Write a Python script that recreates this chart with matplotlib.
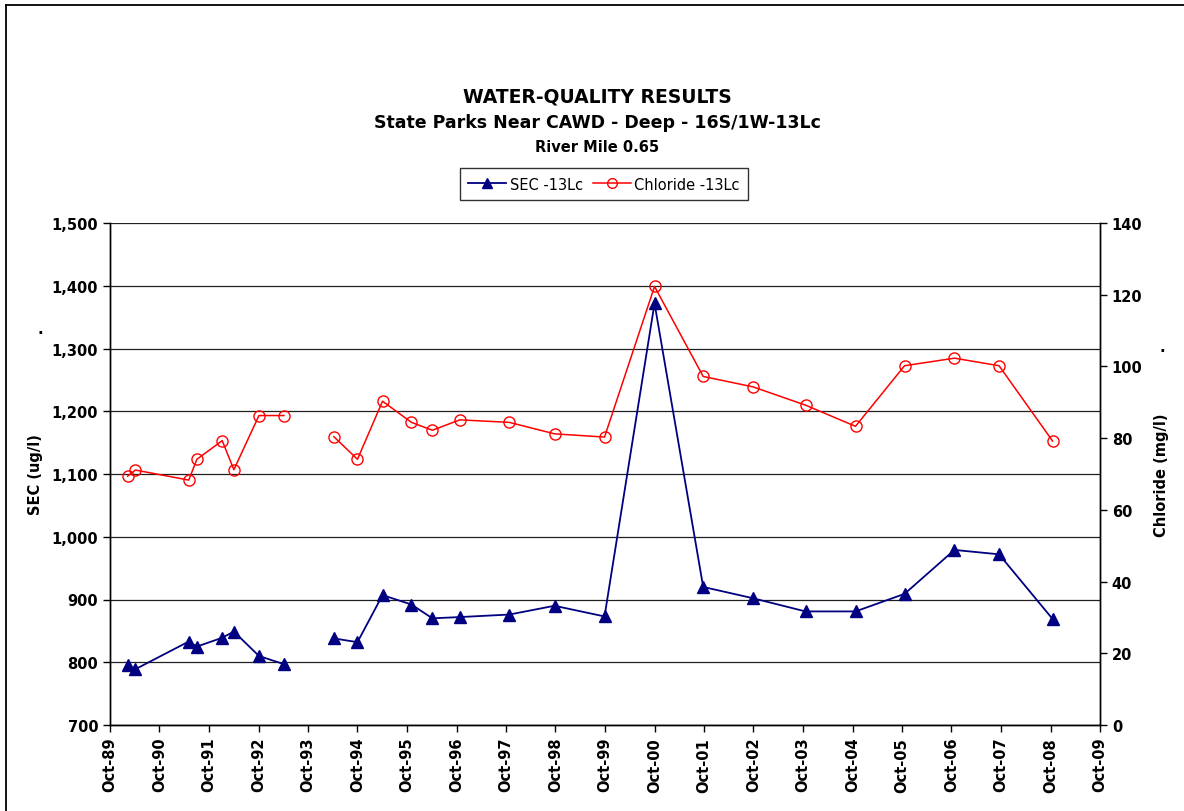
import matplotlib
matplotlib.use("Agg")
import matplotlib.pyplot as plt
import matplotlib.dates as mdates
from matplotlib.lines import Line2D
import numpy as np
import pandas as pd

plt.rcParams['font.family'] = ['DejaVu Sans']

# ---- data ----
sample_dates = ["1990-02-08", "1990-04-07", "1991-05-05", "1991-07-04", "1992-01-07",
                "1992-04-02", "1992-10-04", "1993-04-06", None, "1994-04-10",
                "1994-10-01", "1995-04-04", "1995-11-03", "1996-04-06", "1996-10-25",
                "1997-10-25", "1998-09-24", "1999-09-28", "2000-10-01", "2001-09-25",
                "2002-09-28", "2003-10-20", "2004-10-23", "2005-10-20", "2006-10-23",
                "2007-09-17", "2008-10-16"]
sec_values = [795, 789, 833, 825, 839, 849, 810, 797, None, 838,
              832, 907, 892, 870, 872, 876, 890, 873, 1372, 920,
              902, 881, 881, 909, 979, 972, 869]
chloride_values = [69.4, 71.1, 68.3, 74.1, 79.3, 71.2, 86.3, 86.3, None, 80.4,
                   74.1, 90.3, 84.4, 82.2, 85.1, 84.4, 81.2, 80.3, 122.3, 97.2,
                   94.3, 89.2, 83.3, 100.2, 102.3, 100.2, 79.2]
x_tick_years = list(range(1989, 2010))

# gap in record between 1993 and 1994 -> NaN breaks the lines
gap_date = "1993-10-01"
dates = pd.to_datetime([d if d is not None else gap_date for d in sample_dates])
sec = np.array([np.nan if v is None else v for v in sec_values], dtype=float)
chl = np.array([np.nan if v is None else v for v in chloride_values], dtype=float)

fig = plt.figure(figsize=(11.84, 8.12), dpi=100)
ax = fig.add_axes([110/1184, 1-726/812, 990/1184, 502/812])
ax2 = ax.twinx()

ax.set_ylim(700, 1500)
ax.set_yticks(np.arange(700, 1501, 100))
ax.yaxis.set_major_formatter(matplotlib.ticker.FuncFormatter(lambda v, p: f"{int(v):,}"))
ax2.set_ylim(0, 140)
ax2.set_yticks(np.arange(0, 141, 20))

xt = [pd.Timestamp(f"{y}-10-01") for y in x_tick_years]
ax.set_xlim(xt[0], xt[-1])
ax.set_xticks(xt)
ax.xaxis.set_major_formatter(mdates.DateFormatter("%b-%y"))

ax.grid(axis='y', color='#202020', lw=0.9)
ax.set_axisbelow(True)

for a in (ax, ax2):
    for s in a.spines.values():
        s.set_color('black'); s.set_linewidth(1.0)
    a.spines['top'].set_visible(False)
ax.tick_params(axis='both', direction='out', length=5, width=1, labelsize=10.5)
ax2.tick_params(axis='y', direction='out', length=5, width=1, labelsize=10.5)
for lab in ax.get_xticklabels():
    lab.set_rotation(90); lab.set_fontweight('bold')
for lab in ax.get_yticklabels() + ax2.get_yticklabels():
    lab.set_fontweight('bold')

l1, = ax.plot(dates, sec, color='#000080', lw=1.3, marker='^', ms=8.5,
              mfc='#000080', mec='#000080', label='SEC -13Lc', zorder=3)
l2, = ax2.plot(dates, chl, color='#FF0000', lw=1.1, marker='o', ms=8,
               mfc='none', mec='#FF0000', mew=1.0, label='Chloride -13Lc', zorder=3)

ax.set_ylabel("SEC (ug/l)", fontsize=10.5, fontweight='bold', labelpad=6)
ax2.set_ylabel("Chloride (mg/l)", fontsize=10.5, fontweight='bold', labelpad=8)
fig.text(40/1184, 1-330/812, ".", ha='center', va='center', fontsize=11, fontweight='bold')
fig.text(1162/1184, 1-348/812, ".", ha='center', va='center', fontsize=11, fontweight='bold')

fig.text(597/1184, 1-97/812, "WATER-QUALITY RESULTS", ha='center', va='center',
         fontsize=13.5, fontweight='bold')
fig.text(597/1184, 1-123/812, "State Parks Near CAWD - Deep - 16S/1W-13Lc", ha='center',
         va='center', fontsize=12.5, fontweight='bold')
fig.text(597/1184, 1-147/812, "River Mile 0.65", ha='center', va='center',
         fontsize=10.5, fontweight='bold')

leg = fig.legend(handles=[l1, l2], loc='center', bbox_to_anchor=(604/1184, 1-185/812),
                 ncol=2, frameon=True, fancybox=False, fontsize=10.5, handlelength=2.6,
                 handletextpad=0.25, columnspacing=0.7, borderpad=0.55, borderaxespad=0)
leg.get_frame().set_edgecolor('black'); leg.get_frame().set_linewidth(1.0)
for h in leg.legend_handles:
    h.set_markersize(7)

# outer chart border (left and top visible)
fig.add_artist(Line2D([6/1184, 6/1184], [0, 1-6/812], transform=fig.transFigure,
                      color='black', lw=1.3))
fig.add_artist(Line2D([6/1184, 1], [1-6/812, 1-6/812], transform=fig.transFigure,
                      color='black', lw=1.3))

fig.savefig("out.png", dpi=100, facecolor='white')
